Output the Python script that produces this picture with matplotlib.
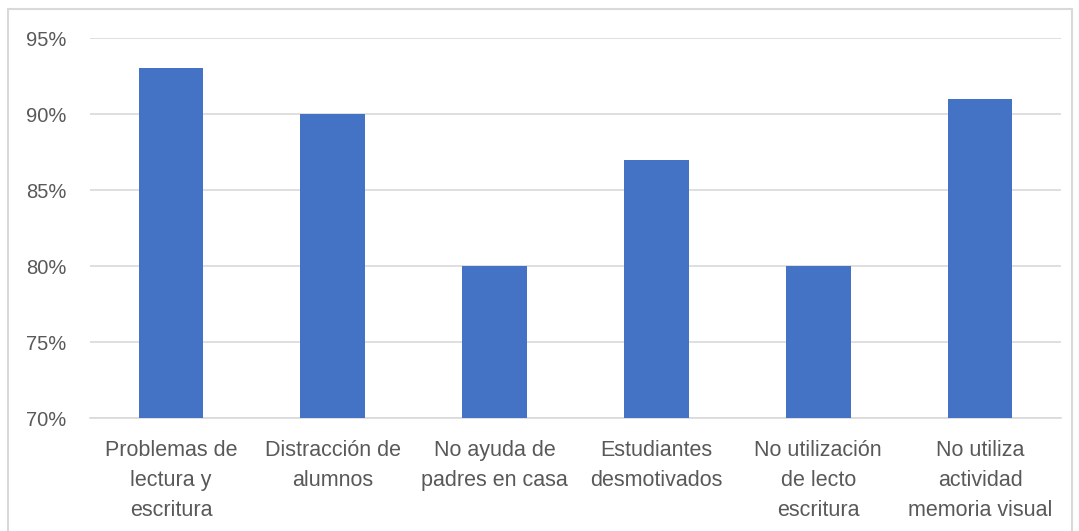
import matplotlib.pyplot as plt
from matplotlib.patches import Rectangle
from matplotlib.ticker import FuncFormatter

categorias = ['Problemas de\nlectura y\nescritura', 'Distracción de\nalumnos',
              'No ayuda de\npadres en casa', 'Estudiantes\ndesmotivados',
              'No utilización\nde lecto\nescritura', 'No utiliza\nactividad\nmemoria visual']
valores = [0.93, 0.90, 0.80, 0.87, 0.80, 0.91]
ticks_y = [0.70, 0.75, 0.80, 0.85, 0.90, 0.95]

plt.rcParams['font.family'] = ['Liberation Sans', 'DejaVu Sans']

fig = plt.figure(figsize=(10.79, 5.31), dpi=100)
ax = fig.add_axes([90 / 1079, 1 - 418 / 531, 971 / 1079, 380 / 531])

# borde del área del gráfico
fig.patches.append(Rectangle((8 / 1079, -0.05), 1064 / 1079, 1.05 - 9 / 531,
                             transform=fig.transFigure, fill=False,
                             edgecolor='#d9d9d9', linewidth=1.5))

x = range(len(categorias))
ax.bar(x, valores, width=0.4, color='#4472C4', zorder=3)

ax.set_xlim(-0.5, len(categorias) - 0.5)
ax.set_ylim(0.70, 0.95)
ax.set_yticks(ticks_y)
ax.yaxis.set_major_formatter(FuncFormatter(lambda v, _: f'{v * 100:.0f}%'))
ax.grid(axis='y', color='#d9d9d9', linewidth=1.2, zorder=0)
ax.set_axisbelow(True)

ax.set_xticks(list(x))
ax.set_xticklabels(categorias, linespacing=1.55)
for s in ['top', 'right', 'left']:
    ax.spines[s].set_visible(False)
ax.spines['bottom'].set_color('#d9d9d9')
ax.spines['bottom'].set_linewidth(1.2)
ax.tick_params(axis='both', length=0, colors='#595959')
ax.tick_params(axis='y', pad=17, labelsize=14.5)
ax.tick_params(axis='x', pad=16, labelsize=15.5)

fig.savefig('out.png', dpi=100)
